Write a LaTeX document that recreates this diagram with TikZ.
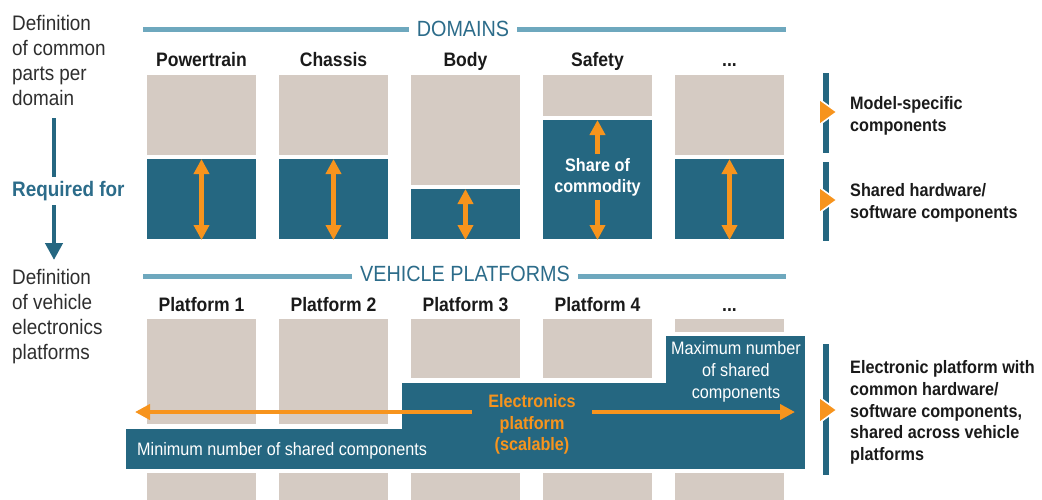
\documentclass[tikz,border=0pt]{standalone}
\usepackage{fontspec}
\setmainfont{Liberation Sans}[FakeStretch=0.9]
\usetikzlibrary{arrows.meta}

\definecolor{beige}{HTML}{D5CBC3}
\definecolor{petrol}{HTML}{256781}
\definecolor{rulecol}{HTML}{6EA8BE}
\definecolor{headcol}{HTML}{2C6C8A}
\definecolor{amber}{HTML}{F7941D}
\definecolor{ink}{HTML}{1A1A1A}
\definecolor{greyink}{HTML}{2E2E2E}

\tikzset{
  x=1pt, y=-1pt,
  coltitle/.style={text=ink, font=\fontsize{19.5}{22}\selectfont\bfseries, anchor=base},
  header/.style={text=headcol, font=\fontsize{22}{24}\selectfont, fill=white, inner xsep=8pt, inner ysep=2pt},
  sidenote/.style={text=greyink, font=\fontsize{21}{25}\selectfont, align=left, anchor=north west, inner sep=0pt},
  legend/.style={text=ink, font=\fontsize{18}{21.7}\selectfont\bfseries, align=left, anchor=west, inner sep=0pt},
  beigebox/.style={fill=beige},
  petrolbox/.style={fill=petrol},
  headrule/.style={draw=rulecol, line width=5pt},
  vbar/.style={fill=petrol},
  pointer/.style={fill=amber, draw=white, line width=1.6pt, line join=miter},
  oarrow/.style={draw=amber, line width=4.5pt, -{Triangle[length=15pt,width=15pt]}},
  odouble/.style={draw=amber, line width=4.5pt, {Triangle[length=15pt,width=15pt]}-{Triangle[length=15pt,width=15pt]}},
}

\begin{document}
\begin{tikzpicture}
\useasboundingbox (0,0) rectangle (1042,499);

% ---------- left-hand explanation ----------
\node[sidenote] (defdom) at (12,15) {Definition\\of common\\parts per\\domain};
\node[text=headcol, font=\fontsize{21}{24}\selectfont\bfseries, anchor=west, inner sep=0pt] (req) at (12,191) {Required for};
\node[sidenote] (defveh) at (12,269) {Definition\\of vehicle\\electronics\\platforms};
\coordinate (reqtop) at (54,118);
\coordinate (reqmid) at (54,177);
\coordinate (reqlow) at (54,205);
\coordinate (reqend) at (54,260);
\draw[draw=petrol, line width=4.5pt] (reqtop) -- (reqmid);
\draw[draw=petrol, line width=4.5pt, -{Triangle[length=17pt,width=17pt]}] (reqlow) -- (reqend);

% ---------- DOMAINS header ----------
\coordinate (dl) at (143,29);
\coordinate (dr) at (786,29);
\draw[headrule] (dl) -- (dr);
\node[header] (domains) at (463,29) {DOMAINS};

% column titles
\node[coltitle] (t1) at (201.5,66) {Powertrain};
\node[coltitle] (t2) at (333.5,66) {Chassis};
\node[coltitle] (t3) at (465.5,66) {Body};
\node[coltitle] (t4) at (597.5,66) {Safety};
\node[coltitle] (t5) at (729.5,66) {...};

% domain columns: model-specific part (beige) over shared part (petrol)
\fill[beigebox] (147,75) rectangle (256,155);
\fill[petrolbox] (147,159) rectangle (256,239);
\fill[beigebox] (279,75) rectangle (388,155);
\fill[petrolbox] (279,159) rectangle (388,239);
\fill[beigebox] (411,75) rectangle (520,185);
\fill[petrolbox] (411,189) rectangle (520,239);
\fill[beigebox] (543,75) rectangle (652,116);
\fill[petrolbox] (543,120) rectangle (652,239);
\fill[beigebox] (675,75) rectangle (784,155);
\fill[petrolbox] (675,159) rectangle (784,239);

% share arrows
\coordinate (a1t) at (201.5,159); \coordinate (a1b) at (201.5,240);
\coordinate (a2t) at (333.5,159); \coordinate (a2b) at (333.5,240);
\coordinate (a3t) at (465.5,189); \coordinate (a3b) at (465.5,240);
\coordinate (a5t) at (729.5,159); \coordinate (a5b) at (729.5,240);
\draw[odouble] (a1b) -- (a1t);
\draw[odouble] (a2b) -- (a2t);
\draw[odouble] (a3b) -- (a3t);
\draw[odouble] (a5b) -- (a5t);

\node[text=white, font=\fontsize{18}{21}\selectfont\bfseries, align=center] (share) at (597.5,177.5) {Share of\\commodity};
\coordinate (s4t) at (597.5,120);
\coordinate (s4b) at (597.5,240);
\draw[oarrow] (share.north |- 0,154) -- (s4t);
\draw[oarrow] (share.south |- 0,200) -- (s4b);

% legend for the domains
\fill[vbar] (823,73) rectangle (829,153);
\fill[vbar] (823,162) rectangle (829,241);
\filldraw[pointer] (819,99) -- (837,112) -- (819,125) -- cycle;
\filldraw[pointer] (819,187) -- (837,200) -- (819,213) -- cycle;
\node[legend] (lg1) at (850,116) {Model-specific\\components};
\node[legend] (lg2) at (850,203) {Shared hardware/\\software components};

% ---------- VEHICLE PLATFORMS header ----------
\coordinate (vl) at (143,276);
\coordinate (vr) at (786,276);
\draw[headrule] (vl) -- (vr);
\node[header] (vehicle) at (465,274) {VEHICLE PLATFORMS};

\node[coltitle] (p1) at (201.5,311) {Platform 1};
\node[coltitle] (p2) at (333.5,311) {Platform 2};
\node[coltitle] (p3) at (465.5,311) {Platform 3};
\node[coltitle] (p4) at (597.5,311) {Platform 4};
\node[coltitle] (p5) at (729.5,311) {...};

% platform columns above the electronics platform
\fill[beigebox] (147,319) rectangle (256,424);
\fill[beigebox] (279,319) rectangle (388,424);
\fill[beigebox] (411,319) rectangle (520,378);
\fill[beigebox] (543,319) rectangle (652,378);
\fill[beigebox] (675,319) rectangle (784,332);
% platform columns below it
\fill[beigebox] (147,473) rectangle (256,500);
\fill[beigebox] (279,473) rectangle (388,500);
\fill[beigebox] (411,473) rectangle (520,500);
\fill[beigebox] (543,473) rectangle (652,500);
\fill[beigebox] (675,473) rectangle (784,500);

% scalable electronics platform (stepped shape)
\filldraw[fill=petrol, draw=white, line width=1.2pt]
  (125,428) -- (401,428) -- (401,382) -- (665,382) -- (665,335)
  -- (806,335) -- (806,470) -- (125,470) -- cycle;

\node[text=white, font=\fontsize{18}{21}\selectfont, anchor=west, inner sep=0pt] (minsh) at (137,451) {Minimum number of shared components};
\node[text=white, font=\fontsize{18}{22}\selectfont, align=center] (maxsh) at (736,372) {Maximum number\\of shared\\components};
\node[text=amber, font=\fontsize{18}{21.5}\selectfont\bfseries, align=center] (elec) at (532,424.5) {Electronics\\platform\\(scalable)};

\coordinate (ltip) at (135,412);
\coordinate (rtip) at (795,412);
\draw[oarrow] (472,412) -- (ltip);
\draw[oarrow] (592,412) -- (rtip);

% legend for the platforms
\fill[vbar] (823,344) rectangle (829,475);
\filldraw[pointer] (819,397) -- (837,410) -- (819,423) -- cycle;
\node[legend] (lg3) at (850,412.5) {Electronic platform with\\common hardware/\\software components,\\shared across vehicle\\platforms};

\end{tikzpicture}
\end{document}
